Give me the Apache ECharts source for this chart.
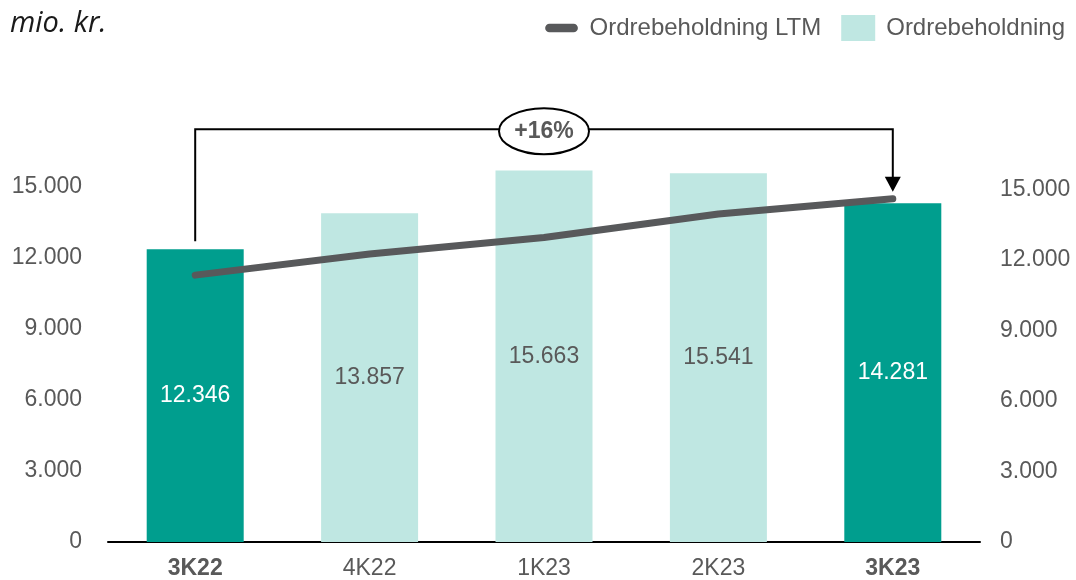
<!DOCTYPE html>
<html>
<head>
<meta charset="utf-8">
<script src="https://cdn.jsdelivr.net/npm/echarts@6/dist/echarts.min.js"></script>
<style>
html,body{margin:0;padding:0;background:#fff;}
#chart{width:1076px;height:580px;}
</style>
</head>
<body>
<div id="chart"></div>
<script>
// ---- data ----
const categories = ['3K22', '4K22', '1K23', '2K23', '3K23'];
const highlighted = ['3K22', '3K23'];
const orderBacklog = [12346, 13857, 15663, 15541, 14281];
const orderBacklogLTM = [11350, 12250, 12950, 13950, 14600];
const leftTicks = [0, 3000, 6000, 9000, 12000, 15000];
const rightTicks = [0, 3000, 6000, 9000, 12000, 15000];
const bracketLevel = 17400;
const unitLabel = 'mio. kr.';
const barName = 'Ordrebeholdning';
const lineName = 'Ordrebeholdning LTM';

// ---- style ----
const DARK = '#009e8e';
const LIGHT = '#bfe7e2';
const LINE = '#58595b';
const TXT = '#595959';
const FONT = '"Liberation Sans", Arial, sans-serif';

function fmt(v) {
  return String(v).replace(/\B(?=(\d{3})+(?!\d))/g, '.');
}

const chart = echarts.init(document.getElementById('chart'), null, {renderer: 'canvas'});

const option = {
  animation: false,
  textStyle: {fontFamily: FONT},
  grid: {left: 108, right: 96, top: 115, bottom: 34, containLabel: false},
  legend: {
    top: 10, right: 6,
    itemWidth: 34, itemHeight: 26, itemGap: 20,
    textStyle: {fontSize: 24, color: TXT, fontFamily: FONT, padding: [0, 0, 0, 6]},
    data: [
      {name: lineName, icon: 'path://M4.5,9 L29.5,9 A4.5,4.5 0 0 1 29.5,18 L4.5,18 A4.5,4.5 0 0 1 4.5,9 Z M0,0 M34,27', itemStyle: {color: LINE}},
      {name: barName, icon: 'rect', itemStyle: {color: LIGHT}}
    ]
  },
  xAxis: {
    type: 'category',
    data: categories,
    axisLine: {show: true, lineStyle: {color: '#000', width: 2}},
    axisTick: {show: false},
    axisLabel: {
      margin: 15,
      fontSize: 23,
      color: TXT,
      formatter: function (v) { return highlighted.indexOf(v) >= 0 ? '{b|' + v + '}' : v; },
      rich: {b: {fontWeight: 'bold', fontSize: 23, color: TXT, fontFamily: FONT}}
    }
  },
  yAxis: [
    {
      type: 'value', min: 0, max: 18000, interval: 3000,
      splitLine: {show: false}, axisLine: {show: false}, axisTick: {show: false},
      axisLabel: {
        margin: 26, fontSize: 23, color: TXT,
        formatter: function (v) { return leftTicks.indexOf(v) >= 0 ? fmt(v) : ''; }
      }
    },
    {
      type: 'value', min: 0, max: 18160, interval: 3000,
      splitLine: {show: false}, axisLine: {show: false}, axisTick: {show: false},
      axisLabel: {
        margin: 20, fontSize: 23, color: TXT,
        formatter: function (v) { return rightTicks.indexOf(v) >= 0 ? fmt(v) : ''; }
      }
    }
  ],
  series: [
    {
      name: barName,
      type: 'bar',
      yAxisIndex: 0,
      barWidth: 97,
      z: 1,
      data: orderBacklog.map(function (v, i) {
        const hi = highlighted.indexOf(categories[i]) >= 0;
        return {
          value: v,
          itemStyle: {color: hi ? DARK : LIGHT},
          label: {color: hi ? '#ffffff' : TXT}
        };
      }),
      label: {
        show: true, position: 'inside', fontSize: 23, fontFamily: FONT,
        formatter: function (p) { return fmt(p.value); }
      }
    },
    {
      name: lineName,
      type: 'line',
      yAxisIndex: 1,
      data: orderBacklogLTM,
      symbol: 'none',
      smooth: false,
      z: 3,
      lineStyle: {color: LINE, width: 7, cap: 'round', join: 'round'},
      itemStyle: {color: LINE}
    }
  ]
};

chart.setOption(option);

// ---- growth bracket annotation, positioned through the chart's own scales ----
const first = categories[0], last = categories[categories.length - 1];
const x1 = chart.convertToPixel({xAxisIndex: 0}, first);
const x2 = chart.convertToPixel({xAxisIndex: 0}, last);
const yStart = chart.convertToPixel({yAxisIndex: 0}, orderBacklog[0]) - 8;
const yTop = chart.convertToPixel({yAxisIndex: 0}, bracketLevel);
const yTip = chart.convertToPixel({yAxisIndex: 1}, orderBacklogLTM[orderBacklogLTM.length - 1]) - 7;
const growth = Math.round((orderBacklog[orderBacklog.length - 1] / orderBacklog[0] - 1) * 100);
const xm = chart.convertToPixel({xAxisIndex: 0}, categories[2]);

chart.setOption({
  graphic: [
    {
      type: 'polyline', z: 10,
      shape: {points: [[x1, yStart], [x1, yTop], [x2, yTop], [x2, yTip - 14]]},
      style: {stroke: '#000', lineWidth: 2, fill: null}
    },
    {
      type: 'polygon', z: 10,
      shape: {points: [[x2 - 8, yTip - 15], [x2 + 8, yTip - 15], [x2, yTip]]},
      style: {fill: '#000'}
    },
    {
      type: 'ellipse', z: 11,
      shape: {cx: xm, cy: yTop + 2, rx: 45, ry: 23},
      style: {fill: '#fff', stroke: '#000', lineWidth: 2}
    },
    {
      type: 'text', z: 12,
      x: xm, y: yTop + 2,
      style: {
        text: '+' + growth + '%', fill: TXT, fontSize: 23, fontWeight: 'bold',
        fontFamily: FONT, align: 'center', verticalAlign: 'middle'
      }
    },
    {
      type: 'text', z: 12,
      left: 10, top: 9,
      style: {
        text: unitLabel, fill: '#1a1a1a', fontSize: 29, fontStyle: 'italic',
        fontFamily: '"Open Sans", "Noto Sans", sans-serif'
      }
    }
  ]
});
</script>
</body>
</html>
